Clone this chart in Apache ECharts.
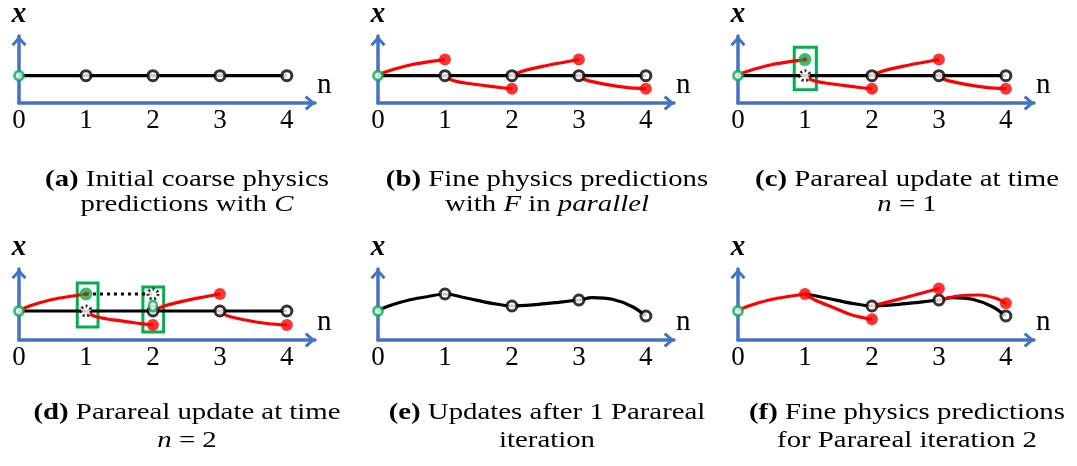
<!DOCTYPE html>
<html>
<head>
<meta charset="utf-8">
<script src="https://cdn.jsdelivr.net/npm/echarts@6/dist/echarts.min.js"></script>
<style>
  html, body { margin: 0; padding: 0; background: #fff; }
  #chart { width: 1077px; height: 466px; }
</style>
</head>
<body>
<div id="chart"></div>
<script>
// Time steps and tick labels shared by all six panels
const steps = [0, 1, 2, 3, 4];
const tickLabels = ['0', '1', '2', '3', '4'];

// Initial coarse predictions (C) at each step
const coarseInit = [2.9, 2.9, 2.9, 2.9, 2.9];

// Fine propagations (F) launched from the initial coarse values, sampled as [n, x]
const fineArc01 = [[0, 2.9], [0.1, 3.25], [0.25, 3.6], [0.5, 4.05], [0.75, 4.35], [1, 4.6]];
const fineArc12 = [[1, 2.9], [1.1, 2.45], [1.3, 2.12], [1.5, 1.93], [1.75, 1.7], [2, 1.5]];
const fineArc23 = [[2, 2.9], [2.15, 3.35], [2.5, 3.95], [2.8, 4.35], [3, 4.6]];
const fineArc34 = [[3, 2.9], [3.1, 2.45], [3.4, 1.98], [3.7, 1.65], [4, 1.5]];
const fineEnd = [4.6, 1.5, 4.6, 1.5];          // fine end values at n = 1..4

// Corrected value at n = 2 during the second update
const correctedN2 = 3.4;

// Solution after one Parareal iteration
const iter1Values = [2.9, 4.6, 3.4, 4.0, 2.4];
const iter1Curve = [[0, 2.9], [0.1, 3.25], [0.25, 3.6], [0.5, 4.05], [0.75, 4.35], [1, 4.6],
  [1.3, 4.23], [1.7, 3.67], [2, 3.4], [2.4, 3.57], [2.7, 3.77], [3, 4.0],
  [3.2, 4.23], [3.5, 4.07], [3.8, 3.33], [4, 2.4]];

// Fine propagations for iteration 2
const fine2Arc12 = [[1, 4.6], [1.15, 4.0], [1.45, 3.17], [1.7, 2.5], [2, 2.07]];
const fine2Arc23 = [[2, 3.4], [2.5, 4.25], [3, 5.15]];
const fine2Arc34 = [[3, 4.0], [3.3, 4.4], [3.6, 4.5], [3.85, 4.17], [4, 3.67]];
const fine2End = [4.6, 2.07, 5.15, 3.67];       // at n = 1..4

// Panel captions (two lines each)
const captions = [
  ['{b|(a)} Initial coarse physics', 'predictions with {i|C}'],
  ['{b|(b)} Fine physics predictions', 'with {i|F} in {i|parallel}'],
  ['{b|(c)} Parareal update at time', '{i|n} = 1'],
  ['{b|(d)} Parareal update at time', '{i|n} = 2'],
  ['{b|(e)} Updates after 1 Parareal', 'iteration'],
  ['{b|(f)} Fine physics predictions', 'for Parareal iteration 2']
];

const BLUE = '#4472C4', RED = '#FF0000', GREEN = '#00B050', BLACK = '#000';
const SERIF = 'Liberation Serif';
const ARROW = 'path://M0,8 L7,0 L14,8 L12,10 L7,4.2 L2,10 Z';

const colLeft = [19, 378, 738];
const rowTop = [32, 269];
const capCx = [187, 547, 907];
const capY = [[180, 205], [413, 441]];

const grids = [], xAxes = [], yAxes = [], series = [], graphics = [];

for (let p = 0; p < 6; p++) {
  const c = p % 3, r = Math.floor(p / 3);
  grids.push({ left: colLeft[c], top: rowTop[r], width: 296, height: 71 });
  xAxes.push({
    gridIndex: p, type: 'value', min: 0, max: 4.42, interval: 1,
    axisLine: { onZero: false, lineStyle: { color: BLUE, width: 3.5 },
      symbol: ['none', ARROW], symbolSize: [15, 11], symbolOffset: [0, -5] },
    axisTick: { show: false }, splitLine: { show: false },
    axisLabel: { fontFamily: SERIF, fontSize: 27, color: BLACK, margin: 4,
      showMaxLabel: false, formatter: v => tickLabels[steps.indexOf(v)] ?? '' },
    name: 'n', nameLocation: 'end', nameGap: 2,
    nameTextStyle: { fontFamily: SERIF, fontSize: 29, color: BLACK,
      verticalAlign: 'bottom', padding: [0, 0, 3, 0] }
  });
  yAxes.push({
    gridIndex: p, type: 'value', min: 0, max: 7.1,
    axisLine: { onZero: false, lineStyle: { color: BLUE, width: 3.5 },
      symbol: ['none', ARROW], symbolSize: [15, 11], symbolOffset: [0, -5] },
    axisTick: { show: false }, splitLine: { show: false }, axisLabel: { show: false },
    name: 'x', nameLocation: 'end', nameGap: 7,
    nameTextStyle: { fontFamily: SERIF, fontSize: 29, fontWeight: 'bold',
      fontStyle: 'italic', color: BLACK, align: 'center' }
  });
  graphics.push(...captions[p].map((txt, k) => ({
    type: 'text', x: capCx[c], y: capY[r][k], scaleX: 1.2, silent: true,
    style: {
      text: txt, align: 'center', verticalAlign: 'middle',
      fontFamily: SERIF, fontSize: 24, fill: BLACK,
      rich: {
        b: { fontFamily: SERIF, fontSize: 24, fontWeight: 'bold', fill: BLACK },
        i: { fontFamily: SERIF, fontSize: 24, fontStyle: 'italic', fill: BLACK }
      }
    }
  })));
}

const pairs = vals => steps.map((n, i) => [n, vals[i]]);

function line(p, data, color, z, extra) {
  return Object.assign({
    type: 'line', xAxisIndex: p, yAxisIndex: p, data, smooth: 0.35,
    showSymbol: false, silent: true, z,
    lineStyle: { color, width: 3.2 }
  }, extra || {});
}
function dots(p, data, opts) {
  return Object.assign({
    type: 'scatter', xAxisIndex: p, yAxisIndex: p, data, silent: true,
    symbol: 'circle', symbolSize: 10, z: 5,
    itemStyle: { color: '#fff', borderColor: BLACK, borderWidth: 3 }
  }, opts || {});
}
const openBlack = (p, data, z) => dots(p, data, { z: z || 5 });
const redDots = (p, data) => dots(p, data, { symbolSize: 12, z: 6,
  itemStyle: { color: RED, borderWidth: 0 } });
const greenStart = p => dots(p, [[0, coarseInit[0]]], { symbolSize: 9, z: 9,
  itemStyle: { color: '#fff', borderColor: GREEN, borderWidth: 2.8 } });
const crossedOut = (p, data) => dots(p, data, { z: 7,
  itemStyle: { color: '#fff', borderColor: BLACK, borderWidth: 3, borderType: [2, 2.5] } });
const greenPicked = (p, data) => [
  dots(p, data, { symbolSize: 13, z: 8, itemStyle: { color: GREEN, borderWidth: 0 } }),
  dots(p, data, { symbolSize: 4.5, z: 9, itemStyle: { color: RED, borderWidth: 0 } })
];
const boxes = (p, list) => dots(p, [], { markArea: { silent: true,
  itemStyle: { color: 'rgba(0,0,0,0)', borderColor: GREEN, borderWidth: 3 },
  data: list.map(b => [{ coord: [b[0], b[1]] }, { coord: [b[2], b[3]] }]) } });

const fineArcs = [fineArc01, fineArc12, fineArc23, fineArc34];
const fineEndPts = fineEnd.map((v, i) => [steps[i + 1], v]);
const coarsePts = pairs(coarseInit);

// (a) coarse predictions only
series.push(line(0, coarsePts, BLACK, 2, { smooth: false }), openBlack(0, coarsePts.slice(1)), greenStart(0));

// (b) fine predictions in parallel
series.push(line(1, coarsePts, BLACK, 2, { smooth: false }), openBlack(1, coarsePts.slice(1)), greenStart(1));
fineArcs.forEach(a => series.push(line(1, a, RED, 3)));
series.push(redDots(1, fineEndPts));

// (c) update at n = 1
series.push(line(2, coarsePts, BLACK, 2, { smooth: false }), openBlack(2, coarsePts.slice(2)), greenStart(2));
fineArcs.forEach(a => series.push(line(2, a, RED, 3)));
series.push(redDots(2, fineEndPts.slice(1)));
series.push(crossedOut(2, [coarsePts[1]]), ...greenPicked(2, [fineEndPts[0]]));
series.push(boxes(2, [[0.84, 1.4, 1.17, 5.9]]));

// (d) update at n = 2
series.push(line(3, coarsePts, BLACK, 2, { smooth: false }), openBlack(3, coarsePts.slice(2)), greenStart(3));
fineArcs.forEach(a => series.push(line(3, a, RED, 3)));
series.push(redDots(3, fineEndPts.slice(1)));
series.push(crossedOut(3, [coarsePts[1], [steps[2], fineEnd[0]]]), ...greenPicked(3, [fineEndPts[0]]));
series.push(line(3, [[steps[1], fineEnd[0]], [steps[2], fineEnd[0]]], BLACK, 4,
  { smooth: false, lineStyle: { color: BLACK, width: 3, type: [3, 4] } }));
series.push(dots(3, [[steps[2], correctedN2]], { symbolSize: [8, 10], z: 9,
  itemStyle: { color: '#fff', borderColor: GREEN, borderWidth: 2.8 } }));
series.push(boxes(3, [[0.87, 1.3, 1.18, 5.7], [1.85, 0.8, 2.16, 5.3]]));

// (e) solution after one iteration
const iter1Pts = pairs(iter1Values);
series.push(line(4, iter1Curve, BLACK, 2), openBlack(4, iter1Pts.slice(1)), greenStart(4));

// (f) fine predictions for iteration 2
series.push(line(5, iter1Curve.filter(d => d[0] >= 1), BLACK, 2));
[fineArc01, fine2Arc12, fine2Arc23, fine2Arc34].forEach(a => series.push(line(5, a, RED, 3)));
series.push(openBlack(5, iter1Pts.slice(2)), greenStart(5));
series.push(redDots(5, fine2End.map((v, i) => [steps[i + 1], v])));

const chart = echarts.init(document.getElementById('chart'), null, { renderer: 'canvas' });
chart.setOption({
  animation: false,
  backgroundColor: '#fff',
  grid: grids, xAxis: xAxes, yAxis: yAxes, series,
  graphic: graphics
});
</script>
</body>
</html>
